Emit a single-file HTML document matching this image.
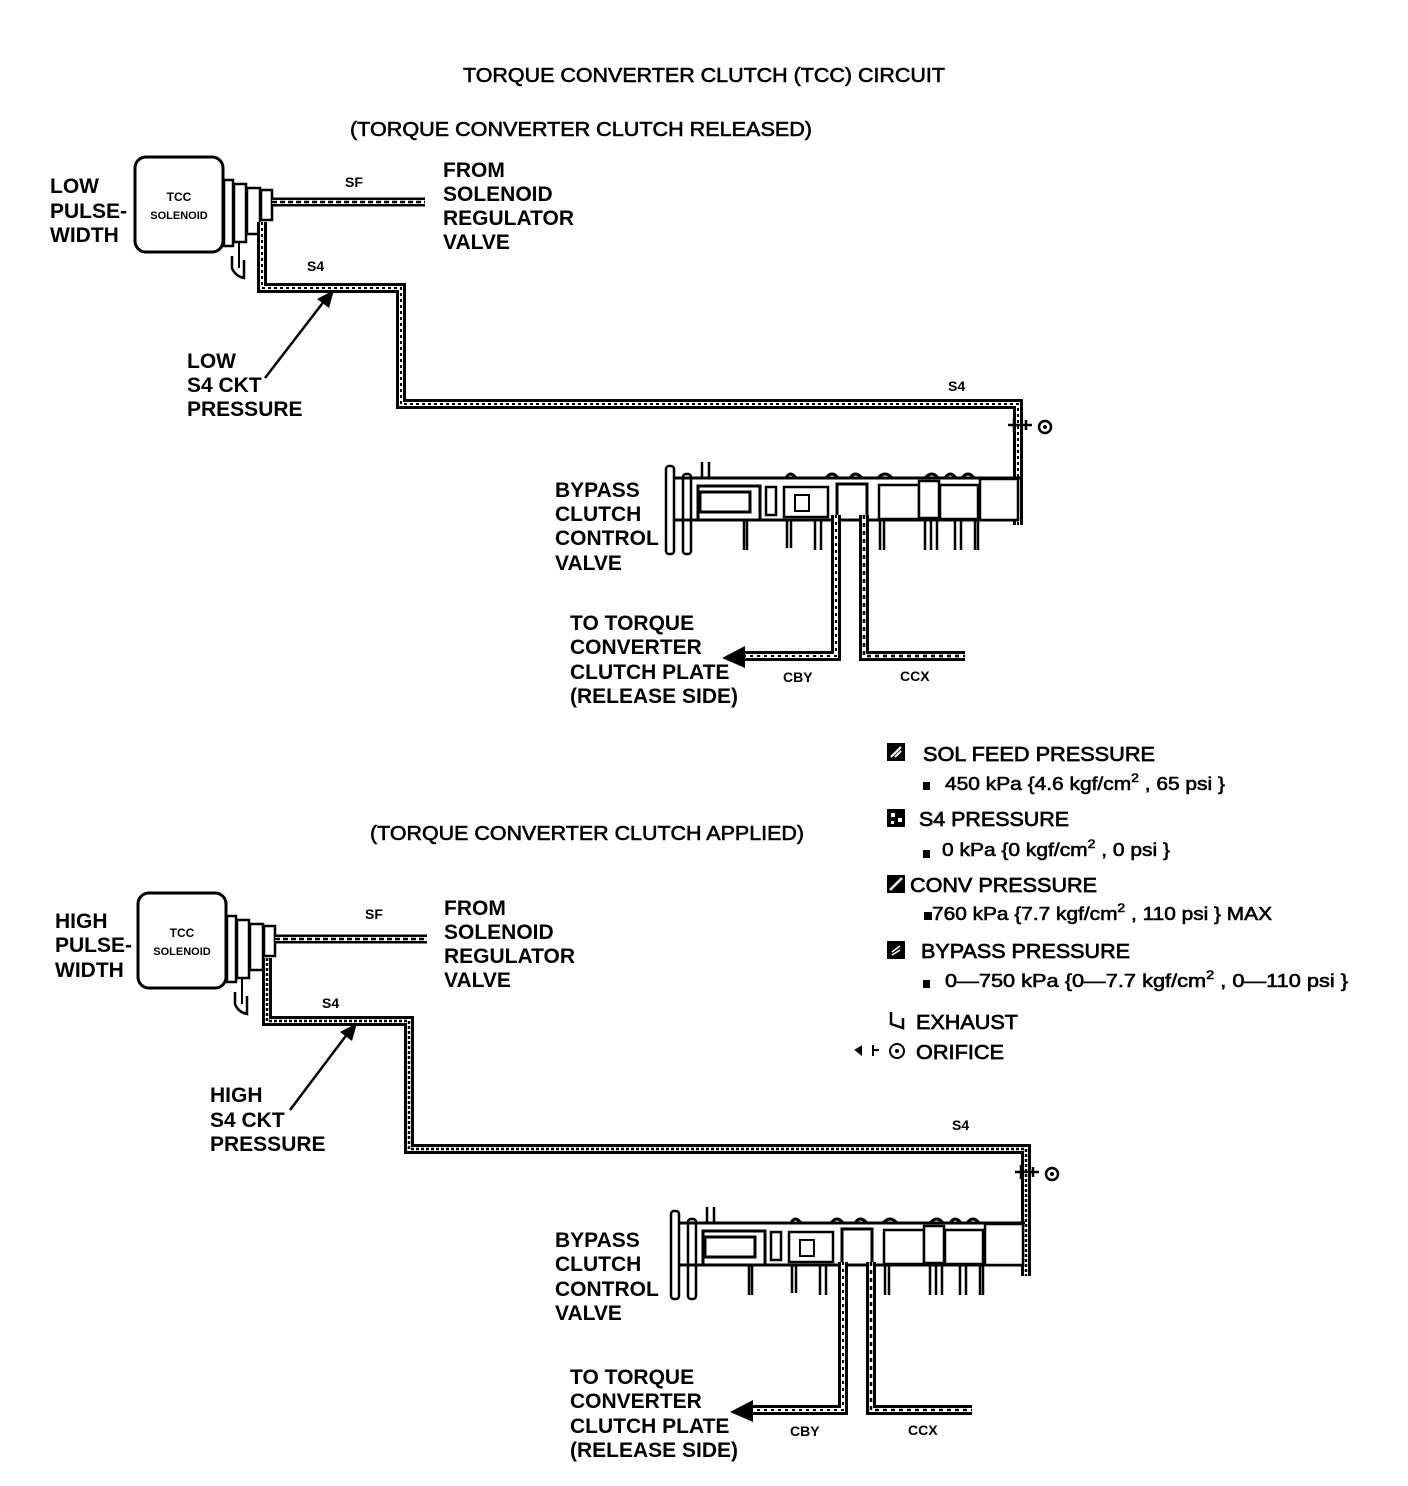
<!DOCTYPE html>
<html><head><meta charset="utf-8"><style>
html,body{margin:0;padding:0;background:#fff;}
svg{display:block;}
text{font-family:"Liberation Sans",Arial,sans-serif;fill:#000;}
.t{font-size:21px;font-weight:bold;}
.s{font-size:14px;font-weight:bold;}
.lg{font-size:20px;stroke:#000;stroke-width:0.7;}
.sb{font-size:18px;stroke:#000;stroke-width:0.6;}
</style></head><body>
<svg width="1408" height="1486" viewBox="0 0 1408 1486" xmlns="http://www.w3.org/2000/svg">
<defs>
<g id="sol">
  <rect x="135" y="157" width="88" height="95" rx="11" fill="#fff" stroke="#000" stroke-width="3"/>
  <text x="179" y="201" text-anchor="middle" style="font-size:12px;font-weight:bold">TCC</text>
  <text x="179" y="219" text-anchor="middle" style="font-size:11px;font-weight:bold">SOLENOID</text>
  <rect x="224" y="180" width="9" height="66" fill="#fff" stroke="#000" stroke-width="2.5"/>
  <rect x="234" y="184" width="12" height="58" fill="#fff" stroke="#000" stroke-width="2.5"/>
  <rect x="247" y="188" width="13" height="46" fill="#fff" stroke="#000" stroke-width="2.5"/>
  <rect x="261" y="190" width="11" height="30" fill="#fff" stroke="#000" stroke-width="2.5"/>
  <path d="M232 256 L232 268 Q235 276 244 278 L244 260" fill="none" stroke="#000" stroke-width="2.5"/>
  <path d="M239 242 L239 268" stroke="#000" stroke-width="2"/>
</g>
<g id="valve">
  <rect x="666" y="466" width="8" height="88" rx="3" fill="#fff" stroke="#000" stroke-width="2.5"/>
  <rect x="683" y="474" width="8" height="80" rx="3" fill="#fff" stroke="#000" stroke-width="2.5"/>
  <path d="M702 462 L702 478 M709 462 L709 478" stroke="#000" stroke-width="2.5"/>
  <path d="M674 478 L1020 478 M674 520 L1018 520" stroke="#000" stroke-width="3"/>
  <rect x="698" y="486" width="62" height="34" fill="#fff" stroke="#000" stroke-width="3"/>
  <rect x="700" y="492" width="50" height="20" fill="#fff" stroke="#000" stroke-width="3"/>
  <rect x="766" y="487" width="10" height="28" fill="#fff" stroke="#000" stroke-width="2.5"/>
  <rect x="784" y="487" width="44" height="30" fill="#fff" stroke="#000" stroke-width="2.5"/>
  <rect x="795" y="495" width="14" height="16" fill="#fff" stroke="#000" stroke-width="2"/>
  <rect x="837" y="484" width="30" height="36" fill="#fff" stroke="#000" stroke-width="3"/>
  <rect x="879" y="485" width="40" height="34" fill="#fff" stroke="#000" stroke-width="2.5"/>
  <rect x="919" y="481" width="20" height="37" fill="#fff" stroke="#000" stroke-width="2.5"/>
  <rect x="940" y="485" width="38" height="34" fill="#fff" stroke="#000" stroke-width="2.5"/>
  <rect x="980" y="479" width="38" height="41" fill="#fff" stroke="#000" stroke-width="2.5"/>
  <path d="M786 478 Q790 470 796 478 M826 478 Q832 470 838 478 M850 478 Q855 470 862 478 M878 478 Q885 470 892 478 M925 478 Q932 470 938 478 M945 478 Q950 470 956 478 M962 478 Q968 470 974 478" fill="none" stroke="#000" stroke-width="3"/>
  <path d="M744 520 V550 M747 520 V550 M787 520 V548 M791 520 V548 M815 520 V550 M821 520 V550 M880 520 V550 M884 520 V550 M925 520 V550 M931 520 V550 M937 520 V550 M955 520 V550 M961 520 V550 M975 520 V550 M978 520 V550" stroke="#000" stroke-width="2.5"/>
</g>
</defs>

<text x="463" y="82" style="font-size:20px;stroke:#000;stroke-width:0.6" textLength="482" lengthAdjust="spacingAndGlyphs">TORQUE CONVERTER CLUTCH (TCC) CIRCUIT</text>
<text x="350" y="136" style="font-size:20px;stroke:#000;stroke-width:0.6" textLength="462" lengthAdjust="spacingAndGlyphs">(TORQUE CONVERTER CLUTCH RELEASED)</text>
<text x="370" y="840" style="font-size:20px;stroke:#000;stroke-width:0.6" textLength="434" lengthAdjust="spacingAndGlyphs">(TORQUE CONVERTER CLUTCH APPLIED)</text>

<!-- Diagram 1 -->
<use href="#sol"/>
<g fill="none">
  <path d="M272 202 H425" stroke="#000" stroke-width="9"/>
  <path d="M272 202 H425" stroke="#fff" stroke-width="4"/>
  <path d="M272 202 H425" stroke="#000" stroke-width="2.5" stroke-dasharray="5 3"/>
  <path id="p1" d="M262 222 V288 H401 V404 H1018 V525"/>
  <use href="#p1" stroke="#000" stroke-width="10"/>
  <use href="#p1" stroke="#fff" stroke-width="4"/>
  <use href="#p1" stroke="#000" stroke-width="2" stroke-dasharray="3 3"/>
</g>
<g id="orif1">
  <path d="M1008 425 H1032 M1014 418 V432 M1026 420 V430" stroke="#000" stroke-width="2.5"/>
  <circle cx="1045" cy="427" r="6" fill="#fff" stroke="#000" stroke-width="2.5"/>
  <circle cx="1045" cy="427" r="2" fill="#000"/>
</g>
<use href="#valve"/>
<g fill="none">
  <path d="M836 515 V656 H740" stroke="#000" stroke-width="10"/>
  <path d="M836 515 V656 H740" stroke="#fff" stroke-width="4"/>
  <path d="M836 515 V656 H740" stroke="#000" stroke-width="2" stroke-dasharray="3 4"/>
  <path d="M864 515 V656 H965" stroke="#000" stroke-width="10"/>
  <path d="M864 515 V656 H965" stroke="#fff" stroke-width="4"/>
  <path d="M864 515 V656 H965" stroke="#000" stroke-width="2.5" stroke-dasharray="4 4"/>
</g>
<path d="M722 658 L745 646 L745 668 Z" fill="#000"/>
<path d="M265 378 L325 300" stroke="#000" stroke-width="2.5"/>
<path d="M334 290 L317 299 L329 308 Z" fill="#000"/>

<text x="50" y="193" class="t">LOW</text>
<text x="50" y="218" class="t">PULSE-</text>
<text x="50" y="242" class="t">WIDTH</text>
<text x="443" y="177" class="t">FROM</text>
<text x="443" y="201" class="t">SOLENOID</text>
<text x="443" y="225" class="t">REGULATOR</text>
<text x="443" y="249" class="t">VALVE</text>
<text x="345" y="187" class="s">SF</text>
<text x="307" y="271" class="s">S4</text>
<text x="948" y="391" class="s">S4</text>
<text x="187" y="368" class="t">LOW</text>
<text x="187" y="392" class="t">S4 CKT</text>
<text x="187" y="416" class="t">PRESSURE</text>
<text x="555" y="497" class="t">BYPASS</text>
<text x="555" y="521" class="t">CLUTCH</text>
<text x="555" y="545" class="t">CONTROL</text>
<text x="555" y="570" class="t">VALVE</text>
<text x="570" y="630" class="t">TO TORQUE</text>
<text x="570" y="654" class="t">CONVERTER</text>
<text x="570" y="679" class="t">CLUTCH PLATE</text>
<text x="570" y="703" class="t">(RELEASE SIDE)</text>
<text x="783" y="682" class="s">CBY</text>
<text x="900" y="681" class="s">CCX</text>

<!-- Diagram 2 -->
<use href="#sol" transform="translate(3,736)"/>
<g fill="none">
  <path d="M275 939 H427" stroke="#000" stroke-width="9"/>
  <path d="M275 939 H427" stroke="#fff" stroke-width="4"/>
  <path d="M275 939 H427" stroke="#000" stroke-width="2.5" stroke-dasharray="5 3"/>
  <path id="p2" d="M267 958 V1021 H409 V1149 H1026 V1276"/>
  <use href="#p2" stroke="#000" stroke-width="10"/>
  <use href="#p2" stroke="#fff" stroke-width="4"/>
  <use href="#p2" stroke="#000" stroke-width="2.5" stroke-dasharray="3 2"/>
</g>
<use href="#orif1" transform="translate(7,747)"/>
<use href="#valve" transform="translate(5,745)"/>
<g fill="none">
  <path d="M843 1262 V1410 H748" stroke="#000" stroke-width="10"/>
  <path d="M843 1262 V1410 H748" stroke="#fff" stroke-width="4"/>
  <path d="M843 1262 V1410 H748" stroke="#000" stroke-width="2" stroke-dasharray="3 4"/>
  <path d="M871 1262 V1410 H972" stroke="#000" stroke-width="10"/>
  <path d="M871 1262 V1410 H972" stroke="#fff" stroke-width="4"/>
  <path d="M871 1262 V1410 H972" stroke="#000" stroke-width="2.5" stroke-dasharray="4 4"/>
</g>
<path d="M730 1412 L753 1400 L753 1422 Z" fill="#000"/>
<path d="M290 1110 L348 1033" stroke="#000" stroke-width="2.5"/>
<path d="M357 1023 L340 1032 L352 1041 Z" fill="#000"/>

<text x="55" y="928" class="t">HIGH</text>
<text x="55" y="952" class="t">PULSE-</text>
<text x="55" y="977" class="t">WIDTH</text>
<text x="444" y="915" class="t">FROM</text>
<text x="444" y="939" class="t">SOLENOID</text>
<text x="444" y="963" class="t">REGULATOR</text>
<text x="444" y="987" class="t">VALVE</text>
<text x="365" y="919" class="s">SF</text>
<text x="322" y="1008" class="s">S4</text>
<text x="952" y="1130" class="s">S4</text>
<text x="210" y="1102" class="t">HIGH</text>
<text x="210" y="1127" class="t">S4 CKT</text>
<text x="210" y="1151" class="t">PRESSURE</text>
<text x="555" y="1247" class="t">BYPASS</text>
<text x="555" y="1271" class="t">CLUTCH</text>
<text x="555" y="1296" class="t">CONTROL</text>
<text x="555" y="1320" class="t">VALVE</text>
<text x="570" y="1384" class="t">TO TORQUE</text>
<text x="570" y="1408" class="t">CONVERTER</text>
<text x="570" y="1433" class="t">CLUTCH PLATE</text>
<text x="570" y="1457" class="t">(RELEASE SIDE)</text>
<text x="790" y="1436" class="s">CBY</text>
<text x="908" y="1435" class="s">CCX</text>

<!-- Legend -->
<rect x="887" y="743" width="18" height="18" fill="#000"/>
<path d="M891 757 L901 747 M895 757 L901 751" stroke="#fff" stroke-width="2"/>
<text x="923" y="761" class="lg" textLength="232" lengthAdjust="spacingAndGlyphs">SOL FEED PRESSURE</text>
<rect x="923" y="782" width="7" height="8" fill="#000"/>
<text x="945" y="790" class="sb" textLength="280" lengthAdjust="spacingAndGlyphs">450 kPa {4.6 kgf/cm<tspan dy="-8" style="font-size:12px">2</tspan><tspan dy="8"> , 65 psi }</tspan></text>

<rect x="887" y="809" width="18" height="18" fill="#000"/>
<rect x="891" y="813" width="4" height="4" fill="#fff"/><rect x="898" y="818" width="4" height="4" fill="#fff"/><rect x="891" y="821" width="3" height="3" fill="#fff"/>
<text x="919" y="826" class="lg" textLength="150" lengthAdjust="spacingAndGlyphs">S4 PRESSURE</text>
<rect x="923" y="850" width="7" height="8" fill="#000"/>
<text x="942" y="856" class="sb" textLength="228" lengthAdjust="spacingAndGlyphs">0 kPa {0 kgf/cm<tspan dy="-8" style="font-size:12px">2</tspan><tspan dy="8"> , 0 psi }</tspan></text>

<rect x="887" y="875" width="18" height="18" fill="#000"/>
<path d="M890 890 L902 878" stroke="#fff" stroke-width="2.5"/>
<text x="910" y="892" class="lg" textLength="187" lengthAdjust="spacingAndGlyphs">CONV PRESSURE</text>
<rect x="924" y="912" width="8" height="8" fill="#000"/>
<text x="932" y="920" class="sb" textLength="340" lengthAdjust="spacingAndGlyphs">760 kPa {7.7 kgf/cm<tspan dy="-8" style="font-size:12px">2</tspan><tspan dy="8"> , 110 psi } MAX</tspan></text>

<rect x="887" y="941" width="18" height="18" fill="#000"/>
<path d="M892 952 L900 946 M892 955 L900 950" stroke="#fff" stroke-width="1.5"/>
<text x="921" y="958" class="lg" textLength="209" lengthAdjust="spacingAndGlyphs">BYPASS PRESSURE</text>
<rect x="923" y="980" width="7" height="8" fill="#000"/>
<text x="945" y="987" class="sb" textLength="403" lengthAdjust="spacingAndGlyphs">0—750 kPa {0—7.7 kgf/cm<tspan dy="-8" style="font-size:12px">2</tspan><tspan dy="8"> , 0—110 psi }</tspan></text>

<path d="M891 1012 V1024 L903 1028 V1018" fill="none" stroke="#000" stroke-width="2.5"/>
<text x="916" y="1029" class="lg" textLength="102" lengthAdjust="spacingAndGlyphs">EXHAUST</text>
<path d="M856 1050 L861 1047 V1054 Z M873 1045 V1056 M873 1050 H879" stroke="#000" stroke-width="2" fill="#000"/>
<circle cx="897" cy="1051" r="7" fill="#fff" stroke="#000" stroke-width="2"/>
<circle cx="897" cy="1051" r="2" fill="#000"/>
<text x="916" y="1059" class="lg" textLength="88" lengthAdjust="spacingAndGlyphs">ORIFICE</text>
</svg>
</body></html>
